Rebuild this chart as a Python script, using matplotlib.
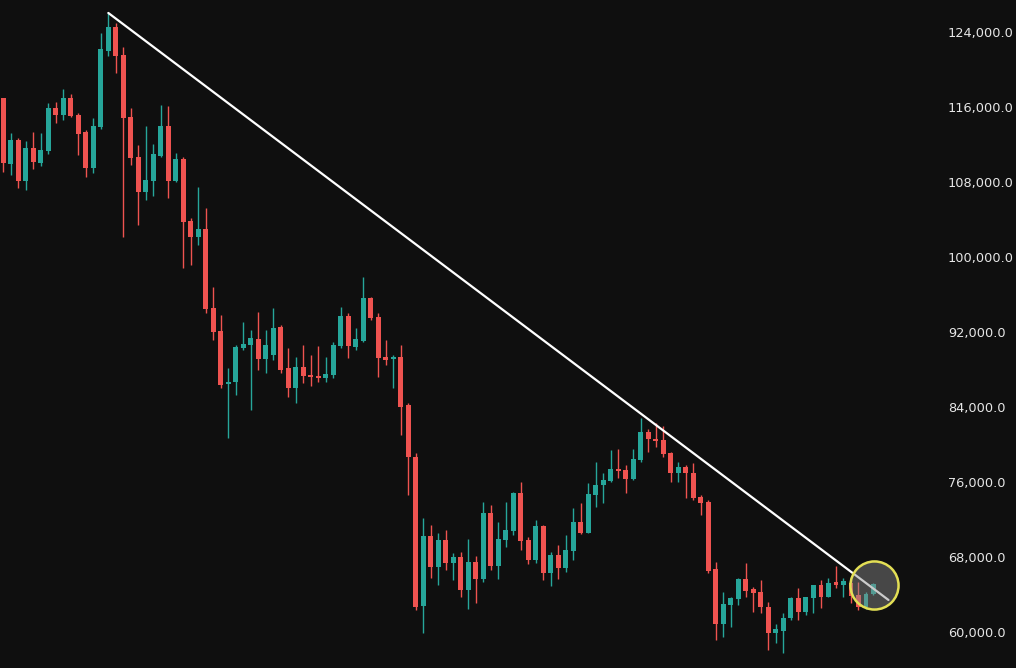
import matplotlib.pyplot as plt
import numpy as np

# OHLC, one entry per candle, oldest first
opens = [116960, 109900, 112480, 108100, 111630, 110030, 111300, 115890, 115150, 116960,
         115150, 113330, 109490, 113870, 121970, 124530, 121550, 114930, 110670, 106930,
         108110, 110770, 113970, 108110, 110450, 103840, 102130, 102990, 94560, 92110,
         86450, 86670, 90290, 90610, 91250, 89120, 89550, 92530, 88160, 86030,
         88270, 87410, 87310, 87090, 87410, 90510, 93710, 90400, 91040, 95630,
         93600, 89330, 89120, 89330, 84210, 78670, 62770, 70240, 66930, 69810,
         67360, 68000, 64480, 67470, 65650, 72690, 67040, 69810, 70770, 74830,
         69810, 67680, 71310, 66290, 68210, 66830, 68640, 71730, 70560, 74610,
         75680, 76110, 77390, 77280, 76320, 78350, 81330, 80590, 80480, 79090,
         76960, 77600, 76960, 74400, 73870, 66720, 60850, 62880, 63520, 65650,
         64590, 64270, 62660, 59890, 60110, 61490, 63630, 62130, 63630, 65010,
         63730, 65330, 65010, 65230, 63950, 62660, 64050]
highs = [117000, 113250, 112690, 112400, 113330, 113230, 116430, 116530, 117920, 117390,
         115360, 113550, 114830, 123890, 126030, 124960, 122400, 115890, 111950, 113970,
         112050, 116210, 116110, 111090, 110670, 104160, 107470, 105230, 96800, 93810,
         88160, 90610, 93070, 92210, 94130, 92210, 94560, 92750, 90290, 89330,
         90610, 89550, 90510, 89330, 90930, 94670, 94030, 92430, 97870, 95730,
         94030, 91150, 89550, 90610, 84430, 79090, 72160, 71410, 70560, 70880,
         68430, 68530, 69920, 68110, 73870, 73550, 71730, 73870, 74930, 76000,
         70130, 71950, 71410, 68530, 69280, 70350, 73230, 73760, 75890, 78130,
         76960, 79410, 79520, 77810, 79520, 82830, 81650, 82290, 81970, 79200,
         78130, 77810, 78030, 74610, 74080, 67470, 64270, 63730, 65760, 67360,
         64800, 65550, 63200, 60850, 62020, 63730, 64690, 63730, 65010, 65550,
         65760, 67040, 65760, 65550, 65330, 64270, 65230]
lows = [109100, 108750, 107360, 107150, 109390, 109700, 110990, 114290, 114610, 114930,
        110880, 108530, 108960, 113700, 121440, 119630, 102130, 109810, 103410, 106080,
        106510, 110670, 106290, 108000, 98830, 99150, 101280, 94030, 91150, 86030,
        80690, 85280, 90080, 83680, 87950, 87630, 89010, 87630, 85070, 84430,
        86560, 86240, 86670, 86670, 87090, 90290, 89230, 90080, 90930, 93280,
        87200, 88480, 86030, 81010, 74610, 62340, 59890, 65760, 65010, 66610,
        65550, 63730, 62450, 63090, 65330, 66610, 65650, 69070, 70350, 68750,
        67250, 67360, 65550, 64910, 65650, 66400, 67680, 70450, 70560, 73330,
        73760, 76000, 76430, 74830, 76210, 78130, 79200, 79730, 78670, 76000,
        76000, 74290, 74080, 72480, 66290, 59150, 59470, 60550, 62880, 63730,
        62130, 62020, 58080, 58830, 57760, 61280, 61280, 61810, 62020, 62560,
        63730, 64690, 63730, 63090, 62340, 62450, 63950]
closes = [110000, 112480, 108100, 111630, 110130, 111410, 115890, 115150, 116960, 115040,
          113120, 109490, 113970, 122190, 124530, 121440, 114830, 110560, 106930, 108210,
          110990, 113970, 108110, 110450, 103730, 102130, 102990, 94450, 92000, 86350,
          86670, 90400, 90720, 91360, 89120, 90610, 92430, 87950, 86030, 88270,
          87310, 87200, 87090, 87520, 90610, 93710, 90510, 91250, 95630, 93490,
          89230, 89010, 89330, 84000, 78670, 62660, 70240, 66930, 69810, 67360,
          68000, 64480, 67470, 65650, 72690, 67040, 69920, 70880, 74830, 69710,
          67680, 71310, 66290, 68210, 66830, 68750, 71730, 70560, 74720, 75680,
          76210, 77390, 77170, 76320, 78450, 81330, 80590, 80370, 78990, 76960,
          77600, 76960, 74290, 73760, 66510, 60850, 62990, 63630, 65650, 64370,
          64160, 62660, 59890, 60320, 61490, 63630, 62130, 63730, 65010, 63730,
          65230, 65010, 65440, 63840, 62660, 64050, 65120]

# descending trendline anchors (candle index, price)
trend_x = [14, 118]
trend_y = [126030, 63413]

# highlighted spot at the last candles
mark_x = 116.1
mark_y = 65010

price_ticks = [60000, 68000, 76000, 84000, 92000, 100000, 108000, 116000, 124000]

up_col = '#26a69a'
down_col = '#ef5350'
bg = '#0f0f0f'

fig = plt.figure(figsize=(10.16, 6.68), dpi=100)
fig.patch.set_facecolor(bg)
ax = fig.add_axes([0, 0, 935 / 1016, 1])
ax.set_facecolor(bg)

o = np.array(opens)
h = np.array(highs)
l = np.array(lows)
c = np.array(closes)
idx = np.arange(len(o))
cols = [up_col if cc >= oo else down_col for oo, cc in zip(o, c)]

# wicks then bodies
ax.vlines(idx, l, h, colors=cols, linewidth=1.0, zorder=2)
body_h = np.maximum(np.abs(c - o), 120)
ax.bar(idx, body_h, bottom=np.minimum(o, c), width=0.66, color=cols,
       linewidth=0, zorder=3)

ax.plot(trend_x, trend_y, color='white', linewidth=1.6, zorder=4,
        solid_capstyle='round')

ax.scatter([mark_x], [mark_y], s=1200, facecolor=(0.55, 0.55, 0.55, 0.45),
           edgecolor='#e3df55', linewidth=1.8, zorder=5)

ax.set_xlim(-0.44, 124.2)
ax.set_ylim(56158, 127413)

ax.set_xticks([])
ax.yaxis.tick_right()
ax.set_yticks(price_ticks)
ax.set_yticklabels([f'{p:,.1f}' for p in price_ticks])
ax.tick_params(axis='y', length=0, pad=9.4, labelsize=9.3, labelcolor='#e6e6e6')
for s in ax.spines.values():
    s.set_visible(False)

fig.savefig('out.png', dpi=100, facecolor=bg)
